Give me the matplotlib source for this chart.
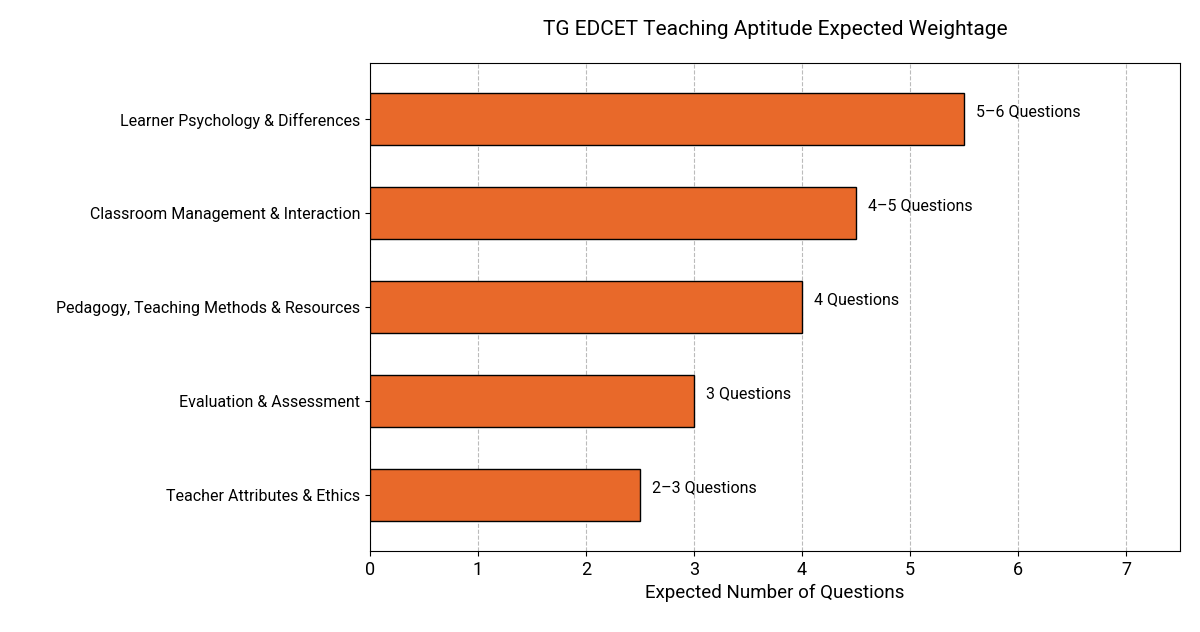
import matplotlib
matplotlib.use("Agg")
import matplotlib.pyplot as plt

categories = ["Learner Psychology & Differences", "Classroom Management & Interaction",
              "Pedagogy, Teaching Methods & Resources", "Evaluation & Assessment",
              "Teacher Attributes & Ethics"]
values = [5.5, 4.5, 4.0, 3.0, 2.5]
labels = ["5–6 Questions", "4–5 Questions", "4 Questions", "3 Questions", "2–3 Questions"]

plt.rcParams['font.family'] = ['Roboto', 'DejaVu Sans']
fig = plt.figure(figsize=(12, 6.32), dpi=100)
ax = fig.add_axes([370/1200, 1-551/632, 810/1200, 488/632])
y = list(range(len(categories)))[::-1]
ax.barh(y, values, height=0.55, color="#E8692A", edgecolor="black", linewidth=1, zorder=3)
for yi, v, l in zip(y, values, labels):
    ax.text(v + 0.11, yi, l, va="bottom", ha="left", fontsize=11.5, zorder=4)
ax.set_yticks(y)
ax.set_yticklabels(categories, fontsize=11.5)
ax.set_xlim(0, 7.5)
ax.set_ylim(-0.6, 4.6)
ax.set_xticks(range(8))
ax.tick_params(axis='x', labelsize=13)
ax.xaxis.grid(True, linestyle="--", color="#bbbbbb", zorder=0)
ax.set_xlabel("Expected Number of Questions", fontsize=13.5)
ax.set_title("TG EDCET Teaching Aptitude Expected Weightage", fontsize=15, pad=20)
fig.savefig("out.png", dpi=100)
